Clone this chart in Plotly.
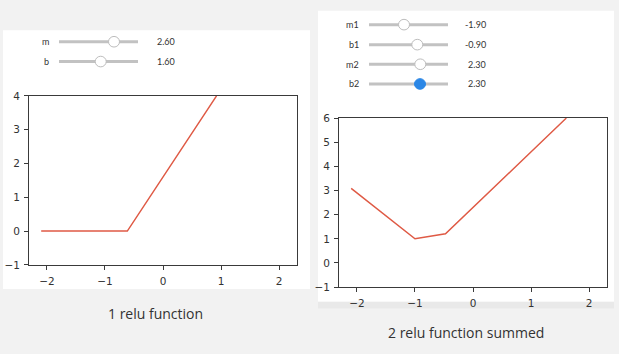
import plotly.graph_objects as go

W, H = 619, 354

# ---- data ----
x_one = [-2.1, -0.615, 0.923]
y_one = [0.0, 0.0, 4.0]

x_two = [-2.1, -1.0, -0.474, 1.609]
y_two = [3.09, 1.0, 1.21, 6.0]

x_ticks = [-2, -1, 0, 1, 2]
y_ticks_one = [-1, 0, 1, 2, 3, 4]
y_ticks_two = [-1, 0, 1, 2, 3, 4, 5, 6]

left_slider_labels = ["m", "b"]
left_slider_values = ["2.60", "1.60"]
right_slider_labels = ["m1", "b1", "m2", "b2"]
right_slider_values = ["-1.90", "-0.90", "2.30", "2.30"]

captions = ["1 relu function", "2 relu function summed"]

# ---- layout helpers ----
def px(x):
    return x / W

def py(y):
    return 1 - y / H

LINE_COLOR = "#df5a45"
TEXT = "#333333"
BG = "#f2f2f2"

fig = go.Figure()
fig.add_trace(go.Scatter(x=x_one, y=y_one, mode="lines",
                         line=dict(color=LINE_COLOR, width=1.5),
                         xaxis="x", yaxis="y", showlegend=False, hoverinfo="skip"))
fig.add_trace(go.Scatter(x=x_two, y=y_two, mode="lines",
                         line=dict(color=LINE_COLOR, width=1.5),
                         xaxis="x2", yaxis="y2", showlegend=False, hoverinfo="skip"))

axis_common = dict(showline=True, mirror=True, linecolor="#3a3a3a", linewidth=1,
                   ticks="outside", ticklen=4, tickcolor="#3a3a3a", tickwidth=1,
                   ticklabelstandoff=2,
                   showgrid=False, zeroline=False, fixedrange=True,
                   tickfont=dict(family="DejaVu Sans", size=10.5, color=TEXT))

shapes = []
annotations = []

# panels
shapes.append(dict(type="rect", xref="paper", yref="paper", layer="below",
                   x0=px(3), x1=px(310), y0=py(293), y1=py(25),
                   fillcolor="white", line=dict(width=0)))
shapes.append(dict(type="rect", xref="paper", yref="paper", layer="below",
                   x0=px(318), x1=px(614), y0=py(306), y1=py(5),
                   fillcolor="white", line=dict(width=0)))
shapes.append(dict(type="rect", xref="paper", yref="paper", layer="below",
                   x0=px(318), x1=px(614), y0=py(313), y1=py(306),
                   fillcolor="#e9e9e9", line=dict(width=0)))

def slider(label, value, y, lab_right, track_x0, track_x1, knob_x, val_right, active=False):
    shapes.append(dict(type="line", xref="paper", yref="paper",
                       x0=px(track_x0), x1=px(track_x1), y0=py(y), y1=py(y),
                       line=dict(color="#c2c2c2", width=3)))
    r = 5.5
    fill = "#2b87e6" if active else "white"
    edge = "#2b87e6" if active else "#bdbdbd"
    shapes.append(dict(type="circle", xref="paper", yref="paper",
                       x0=px(knob_x - r), x1=px(knob_x + r),
                       y0=py(y + r), y1=py(y - r),
                       fillcolor=fill, line=dict(color=edge, width=1)))
    annotations.append(dict(xref="paper", yref="paper", x=px(lab_right), y=py(y),
                            xanchor="right", yanchor="middle", text=label, showarrow=False,
                            font=dict(family="Lato", size=9, color=TEXT)))
    annotations.append(dict(xref="paper", yref="paper", x=px(val_right), y=py(y),
                            xanchor="right", yanchor="middle", text=value, showarrow=False,
                            font=dict(family="Lato", size=9, color=TEXT)))

left_knobs = [114, 100.7]
left_rows = [37, 57.5]
for lab, val, yy, kx in zip(left_slider_labels, left_slider_values, left_rows, left_knobs):
    slider(lab, val, yy, 51, 59, 138, kx, 177)

right_knobs = [404, 417.3, 420.3, 420]
right_rows = [19.3, 40, 60.3, 80.7]
for i, (lab, val, yy, kx) in enumerate(zip(right_slider_labels, right_slider_values, right_rows, right_knobs)):
    slider(lab, val, yy, 361, 369, 448, kx, 488, active=(i == 3))

# captions
annotations.append(dict(xref="paper", yref="paper", x=px(155), y=py(318),
                        xanchor="center", yanchor="middle", text=captions[0], showarrow=False,
                        font=dict(family="Open Sans", size=14, color=TEXT)))
annotations.append(dict(xref="paper", yref="paper", x=px(466), y=py(338),
                        xanchor="center", yanchor="middle", text=captions[1], showarrow=False,
                        font=dict(family="Open Sans", size=14, color=TEXT)))

fig.update_layout(
    width=W, height=H, margin=dict(l=0, r=0, t=0, b=0),
    paper_bgcolor=BG, plot_bgcolor="white",
    xaxis=dict(domain=[px(29), px(297)], range=[-2.31, 2.31], tickvals=x_ticks,
               anchor="y", **axis_common),
    yaxis=dict(domain=[py(268), py(93)], range=[-1, 4], tickvals=y_ticks_one,
               anchor="x", **axis_common),
    xaxis2=dict(domain=[px(339), px(607)], range=[-2.31, 2.31], tickvals=x_ticks,
                anchor="y2", **axis_common),
    yaxis2=dict(domain=[py(291), py(116)], range=[-1, 6], tickvals=y_ticks_two,
                anchor="x2", **axis_common),
    shapes=shapes, annotations=annotations,
)

fig.write_html("out.html")
